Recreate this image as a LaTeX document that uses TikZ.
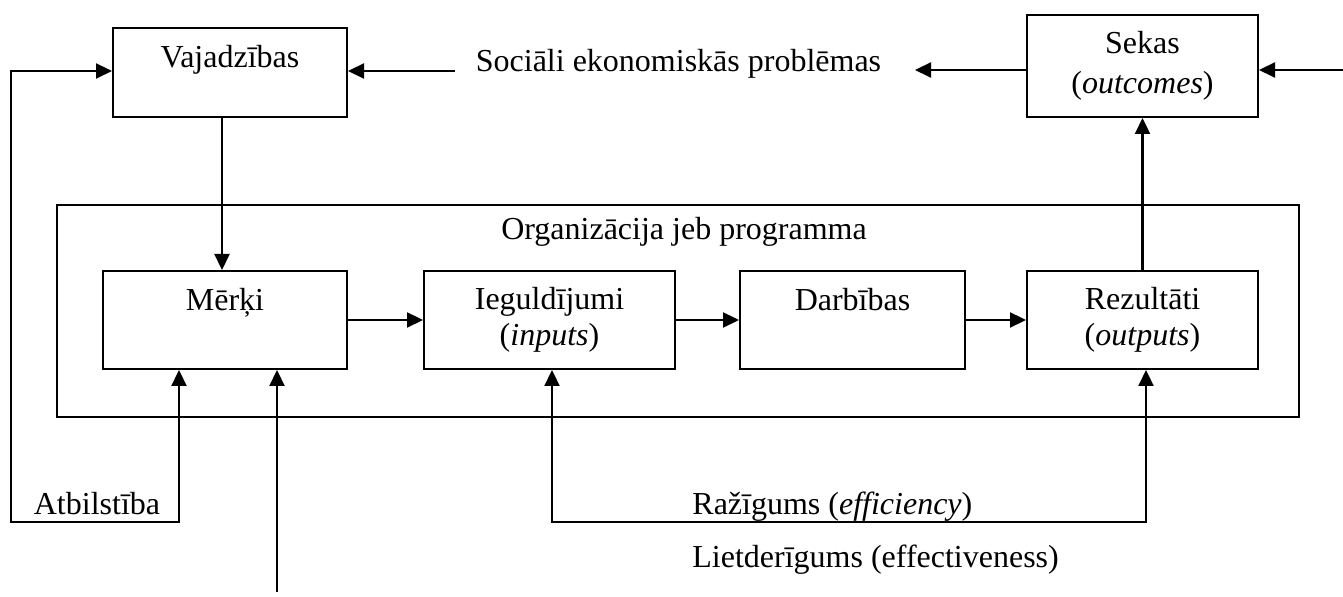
\documentclass[tikz,border=0pt]{standalone}
\usepackage{fontspec}
\setmainfont{Liberation Serif}
\usetikzlibrary{arrows.meta}
\begin{document}
\begin{tikzpicture}[x=0.5pt,y=-0.5pt,
  font=\fontsize{16pt}{18pt}\selectfont,
  box/.style={draw, line width=1pt, inner sep=0pt, align=center},
  lbl/.style={inner sep=0pt, anchor=base},
  conn/.style={line width=1.1pt},
  tip/.tip={Triangle[length=8pt,width=7.5pt]},
  arr/.style={conn, -tip},
  darr/.style={conn, tip-tip}]
\useasboundingbox (0,0) rectangle (1343,597);

% boxes
\node[box, minimum width=117pt, minimum height=44.5pt] (vaj) at (230,72.5) {};
\node[box, minimum width=115.5pt, minimum height=51pt, font=\fontsize{16pt}{20pt}\selectfont] (sek) at (1142.5,66) {Sekas\\(\textit{outcomes})};
\node[box, minimum width=621pt, minimum height=106pt] (org) at (678,311) {};
\node[box, minimum width=122pt, minimum height=49pt] (merki) at (225,320) {};
\node[box, minimum width=125.5pt, minimum height=49pt] (ieg) at (549.5,320) {Ieguldījumi\\(\textit{inputs})};
\node[box, minimum width=112.5pt, minimum height=49pt] (darb) at (852.5,320) {};
\node[box, minimum width=115.5pt, minimum height=49pt] (rez) at (1142.5,320) {Rezultāti\\(\textit{outputs})};

% labels
\node[lbl] (vajt) at (230,68) {Vajadzības};
\node[lbl] (merkit) at (225,311) {Mērķi};
\node[lbl] (darbt) at (852.5,311) {Darbības};
\node[lbl] (orgt) at (684,240) {Organizācija jeb programma};
\node[lbl] (soc) at (678.5,72) {Sociāli ekonomiskās problēmas};
\node[lbl] (atb) at (97,515) {Atbilstība};
\node[lbl, anchor=base west] (raz) at (692,515) {Ražīgums (\textit{efficiency})};
\node[lbl, anchor=base west] (liet) at (692,568) {Lietderīgums (effectiveness)};

% coordinates
\coordinate (socL) at (455,71);
\coordinate (socR) at (915,70);
\coordinate (inR) at (1343,70);
\coordinate (a1) at (179,522);
\coordinate (a2) at (11,71);
\coordinate (m2) at (277,592);
\coordinate (r1) at (552,522);
\coordinate (r2) at (1146,522);

% connectors
\draw[arr] (socL) -- (vaj.east |- socL);
\draw[arr] (sek.west |- socR) -- (socR);
\draw[arr] (inR) -- (sek.east |- inR);
\draw[arr] ([xshift=-4pt]vaj.south) -- ([xshift=-4pt]vaj.south |- merki.north);
\draw[arr] (rez.north) -- (sek.south);
\draw[arr] (merki.east) -- (ieg.west);
\draw[arr] (ieg.east) -- (darb.west);
\draw[arr] (darb.east) -- (rez.west);
\draw[darr] (merki.south -| a1) -- (a1) -- (a1 -| a2) -- (a2) -- (vaj.west |- a2);
\draw[arr] (m2) -- (merki.south -| m2);
\draw[darr] (ieg.south -| r1) -- (r1) -- (r2) -- (rez.south -| r2);
\end{tikzpicture}
\end{document}
